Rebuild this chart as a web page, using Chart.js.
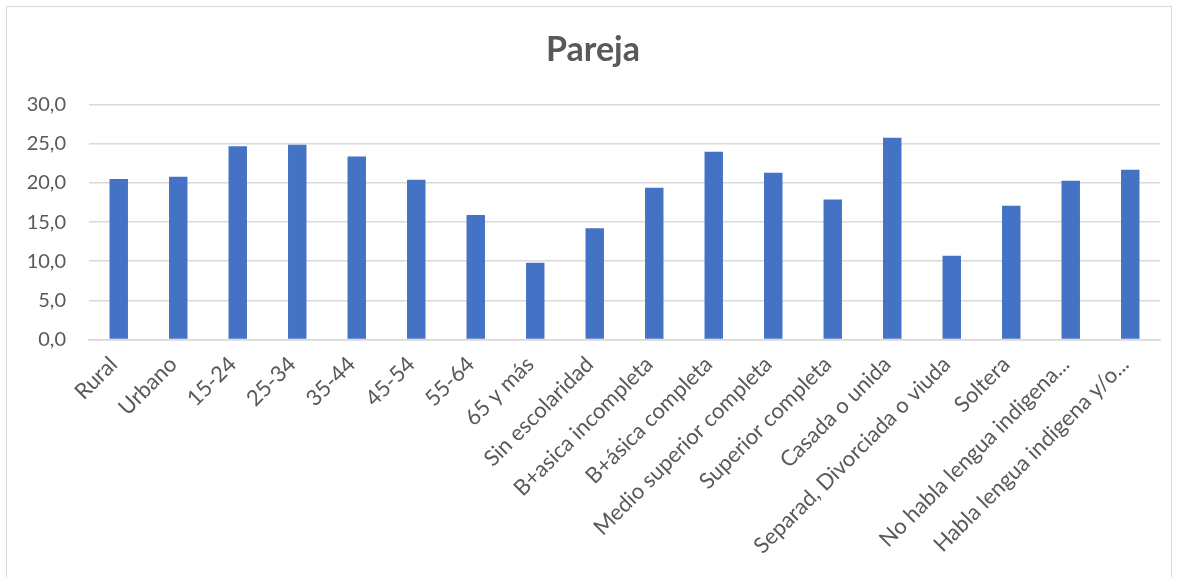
<!DOCTYPE html>
<html>
<head>
<meta charset="utf-8">
<script src="https://cdn.jsdelivr.net/npm/chart.js@4"></script>
<style>
  html, body { margin: 0; padding: 0; background: #fff; }
  #frame { position: absolute; left: 6px; top: 6px; width: 1166px; height: 580px; border: 1px solid #d9d9d9; box-sizing: border-box; }
  #wrap { position: absolute; left: 0; top: 0; width: 1179px; height: 577px; }
</style>
</head>
<body>
<div id="frame"></div>
<div id="wrap"><canvas id="chart"></canvas></div>
<script>
// Categories and values
const categories = [
    'Rural', 'Urbano', '15-24', '25-34', '35-44', '45-54', '55-64', '65 y más',
    'Sin escolaridad', 'B+asica incompleta', 'B+ásica completa', 'Medio superior completa',
    'Superior completa', 'Casada o unida', 'Separad, Divorciada o viuda', 'Soltera',
    'No habla lengua indigena...', 'Habla lengua indigena y/o...'
];
const pareja = [20.5, 20.8, 24.7, 24.9, 23.4, 20.4, 15.9, 9.8, 14.2, 19.4, 24.0, 21.3, 17.9, 25.8, 10.7, 17.1, 20.3, 21.7];
const yTicks = [0, 5, 10, 15, 20, 25, 30];

Chart.defaults.font.family = "Lato, 'Open Sans', sans-serif";
Chart.defaults.color = '#595959';

const ctx = document.getElementById('chart').getContext('2d');
new Chart(ctx, {
    type: 'bar',
    data: {
        labels: categories,
        datasets: [
            { label: 'Pareja', data: pareja, backgroundColor: '#4472C4', categoryPercentage: 1, barPercentage: 0.31 }
        ]
    },
    options: {
        responsive: true,
        maintainAspectRatio: false,
        animation: false,
        layout: { padding: { left: 26, right: 19, top: 30, bottom: 14 } },
        plugins: {
            legend: { display: false },
            tooltip: { enabled: false },
            title: {
                display: true,
                text: 'Pareja',
                color: '#595959',
                font: { size: 34, weight: 'bold' },
                padding: { top: 0, bottom: 34 }
            }
        },
        scales: {
            x: {
                grid: { display: false },
                border: { color: '#d9d9d9', width: 1.5 },
                ticks: { minRotation: 45, maxRotation: 45, font: { size: 22 }, color: '#595959', padding: 4, labelOffset: -5 }
            },
            y: {
                min: 0,
                max: 30,
                afterBuildTicks: axis => { axis.ticks = yTicks.map(v => ({ value: v })); },
                afterFit: axis => { axis.width = 63; },
                grid: { color: '#d9d9d9', lineWidth: 1.5, drawTicks: false },
                border: { display: false },
                ticks: {
                    font: { size: 20 },
                    color: '#595959',
                    padding: 23,
                    callback: v => v.toFixed(1).replace('.', ',')
                }
            }
        }
    }
});
</script>
</body>
</html>
